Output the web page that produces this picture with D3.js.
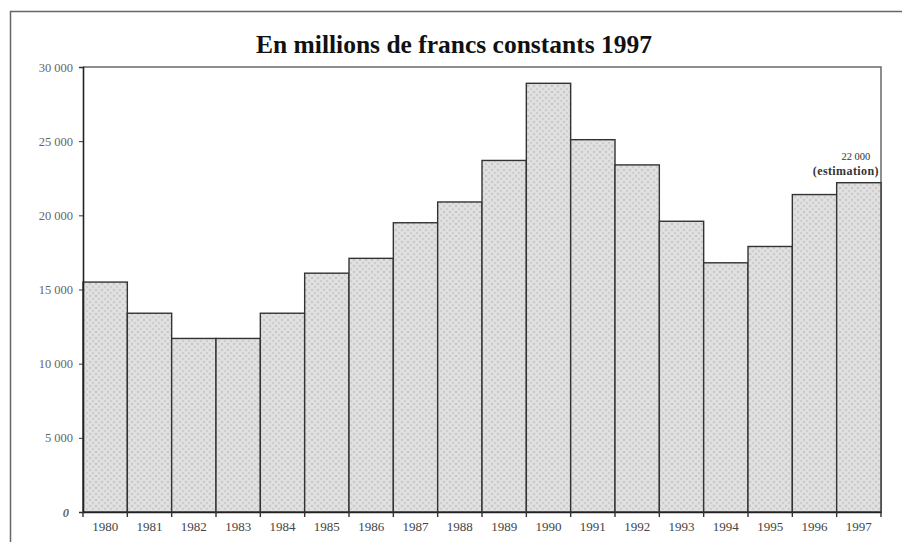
<!DOCTYPE html>
<html>
<head>
<meta charset="utf-8">
<script src="https://cdn.jsdelivr.net/npm/d3@7"></script>
<style>
  body { margin: 0; background: #fff; }
  svg { display: block; }
</style>
</head>
<body>
<div id="graph_draw"></div>
<script>
// data
var years = ["1980","1981","1982","1983","1984","1985","1986","1987","1988",
             "1989","1990","1991","1992","1993","1994","1995","1996","1997"];
var values = [15500,13400,11700,11700,13400,16100,17100,19500,20900,
              23700,28900,25100,23400,19600,16800,17900,21400,22200];
var yTicks = [0,5000,10000,15000,20000,25000,30000];
var titleText = "En millions de francs constants 1997";
var noteLines = ["22 000", "(estimation)"];

var W = 902, H = 542;
var margin = {top: 67, right: 21, bottom: 30, left: 83},
    width = W - margin.left - margin.right,
    height = H - margin.top - margin.bottom;

var svg = d3.select("#graph_draw").append("svg")
    .attr("width", W)
    .attr("height", H);

// stippled grey fill like the scan
var defs = svg.append("defs");
var pat = defs.append("pattern")
    .attr("id", "stipple")
    .attr("patternUnits", "userSpaceOnUse")
    .attr("width", 6).attr("height", 6);
pat.append("rect").attr("width", 6).attr("height", 6).attr("fill", "#dedede");
pat.append("circle").attr("cx", 1).attr("cy", 1).attr("r", 0.9).attr("fill", "#bdbdbd");
pat.append("circle").attr("cx", 4).attr("cy", 4).attr("r", 0.9).attr("fill", "#c6c6c6");
pat.append("circle").attr("cx", 4).attr("cy", 1).attr("r", 0.6).attr("fill", "#f2f2f2");
pat.append("circle").attr("cx", 1).attr("cy", 4).attr("r", 0.6).attr("fill", "#efefef");

// outer frame (left + top edges of the scanned page)
svg.append("path")
    .attr("d", "M10.5,542 L10.5,11.5 L902,11.5")
    .attr("fill", "none")
    .attr("stroke", "#666")
    .attr("stroke-width", 1.5);

// title
svg.append("text")
    .attr("x", 454)
    .attr("y", 53)
    .attr("text-anchor", "middle")
    .attr("font-family", "Liberation Serif, Times New Roman, serif")
    .attr("font-weight", "bold")
    .attr("font-size", 25.5)
    .attr("fill", "#111")
    .text(titleText);

var g = svg.append("g")
    .attr("transform", "translate(" + margin.left + "," + margin.top + ")");

var x = d3.scaleBand().domain(years).range([0, width]).padding(0);
var y = d3.scaleLinear().domain([0, 30000]).range([height, 0]);

// plot frame top + right
g.append("path")
    .attr("d", "M0," + y(30000) + " H" + width + " V" + height)
    .attr("fill", "none")
    .attr("stroke", "#6a6a6a")
    .attr("stroke-width", 1.5);

// bars
g.selectAll(".bar")
    .data(values)
    .enter().append("rect")
    .attr("class", "bar")
    .attr("x", function(d, i) { return x(years[i]); })
    .attr("y", function(d) { return y(d); })
    .attr("width", x.bandwidth())
    .attr("height", function(d) { return height - y(d); })
    .attr("fill", "url(#stipple)")
    .attr("stroke", "#333")
    .attr("stroke-width", 1.4);

// y axis
var yAxis = g.append("g")
    .call(d3.axisLeft(y).tickValues(yTicks).tickSize(4).tickPadding(6)
        .tickFormat(function(d) { return d3.format(",")(d).replace(",", " "); }));
yAxis.select(".domain").attr("stroke", "#222").attr("stroke-width", 1.6);
yAxis.selectAll(".tick line").attr("stroke", "#333");
yAxis.selectAll(".tick text")
    .attr("font-family", "Liberation Serif, Times New Roman, serif")
    .attr("font-size", 12.5)
    .attr("fill", "#666");
yAxis.selectAll(".tick text").filter(function(d) { return d === 0; })
    .attr("font-style", "italic").attr("font-weight", "bold").attr("dx", -4);

// x axis: ticks at bar boundaries
var xAxis = g.append("g")
    .attr("transform", "translate(0," + height + ")")
    .call(d3.axisBottom(x).tickSize(0).tickPadding(10));
xAxis.select(".domain").attr("stroke", "#222").attr("stroke-width", 1.6);
xAxis.selectAll(".tick text")
    .attr("font-family", "Liberation Serif, Times New Roman, serif")
    .attr("font-size", 13)
    .attr("fill", "#444");
xAxis.selectAll(".bound")
    .data(years.concat(["end"]))
    .enter().append("line")
    .attr("class", "bound")
    .attr("x1", function(d, i) { return i * x.step(); })
    .attr("x2", function(d, i) { return i * x.step(); })
    .attr("y1", 0).attr("y2", 5)
    .attr("stroke", "#333")
    .attr("stroke-width", 1.4);

// estimation note above 1997
var last = years.length - 1;
var cx = x(years[last]) + x.bandwidth() / 2;
var note = g.append("text")
    .attr("x", cx - 3)
    .attr("y", y(values[last]) - 23)
    .attr("text-anchor", "middle")
    .attr("font-family", "Liberation Serif, Times New Roman, serif")
    .attr("fill", "#333");
note.append("tspan").attr("font-size", 10.5).text(noteLines[0]);
note.append("tspan")
    .attr("x", cx - 13)
    .attr("dy", 15)
    .attr("font-size", 12)
    .attr("font-weight", "bold")
    .attr("letter-spacing", 0.4)
    .text(noteLines[1]);
</script>
</body>
</html>
